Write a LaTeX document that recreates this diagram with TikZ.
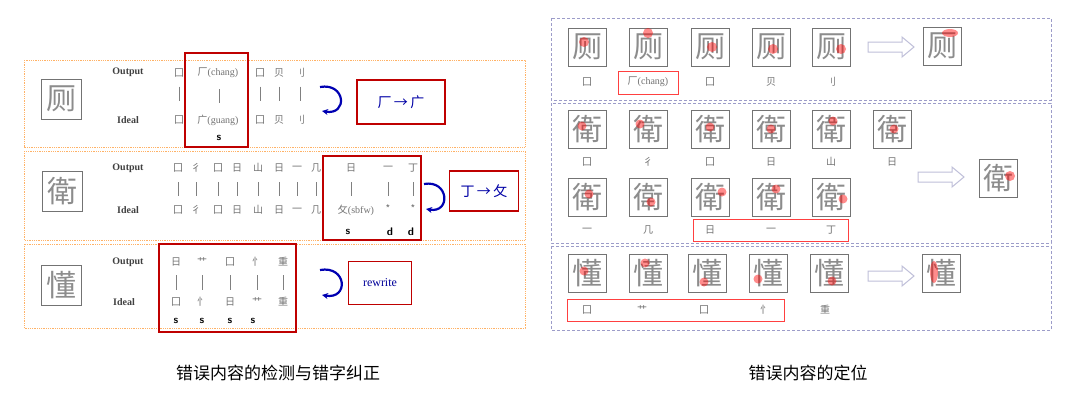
\documentclass[tikz,border=0pt]{standalone}
\usepackage{fontspec}
\setmainfont{Liberation Serif}
\newfontfamily\cjk{Noto Sans CJK SC}
\usetikzlibrary{arrows.meta}
\tikzset{
 orgbox/.style={draw=orange!60,densely dotted,line width=0.8pt},
 bluebox/.style={draw=blue!30!gray!60,densely dashed,line width=0.8pt},
 redbox/.style={draw=red!75!black,line width=1.4pt},
 redthin/.style={draw=red!75,line width=1pt},
 lbl/.style={font=\bfseries\fontsize{10}{10}\selectfont,text=black!75},
 comp/.style={font=\cjk\fontsize{10}{10}\selectfont,text=black!55,inner sep=0pt},
 bar/.style={draw=black!50,line width=0.6pt},
 sd/.style={font=\sffamily\bfseries\fontsize{11}{11}\selectfont,inner sep=0pt},
 glyph/.style={draw=black!55,line width=1pt,minimum size=38pt,inner sep=0pt,font=\cjk\fontsize{30}{30}\selectfont,text=black!45},
 bigglyph/.style={glyph,minimum size=40pt},
 barr/.style={-{Stealth[length=6pt,width=6pt]},draw=blue!70!black,line width=2.2pt},
 harr/.style={draw=blue!25!gray!40,line width=1pt},
 blob/.style={fill=red,opacity=0.45},
 corr/.style={font=\cjk\fontsize{14}{14}\selectfont,text=blue!65!black},
 title/.style={font=\cjk\fontsize{17}{17}\selectfont}
}
\newcommand\harrow[2]{\draw[harr] (#1-22,#2-5) -- (#1+12,#2-5) -- (#1+12,#2-10) -- (#1+24,#2) -- (#1+12,#2+10) -- (#1+12,#2+5) -- (#1-22,#2+5) -- cycle;}
\begin{document}
\begin{tikzpicture}[x=1pt,y=-1pt]
\useasboundingbox (0,0) rectangle (1080,407);
\fill[white] (0,0) rectangle (1080,407);
% ---------------- LEFT PANEL ----------------
\draw[orgbox] (24,60) rectangle (525,147);
\draw[orgbox] (24,151) rectangle (525,240);
\draw[orgbox] (24,244) rectangle (525,328);
\node[glyph,minimum size=40pt] (L1) at (61,99) {厕};
\node[glyph,minimum size=40pt] (L2) at (62,191) {衛};
\node[glyph,minimum size=40pt] (L3) at (61,285) {懂};
% row 1
\node[lbl] (o1) at (128,72) {Output};
\node[lbl] (i1) at (128,120) {Ideal};
\foreach \x/\c/\n in {179/囗/a,260/囗/c,279/贝/d,300/刂/e}{
 \node[comp] (o1\n) at (\x,73) {\c};
 \node[comp] (i1\n) at (\x,120) {\c};
 \draw[bar] (o1\n.south)++(0,9) -- ++(0,14);
}
\node[comp,font=\fontsize{10}{10}\selectfont] (o1b) at (218,73) {{\cjk 厂}(chang)};
\node[comp,font=\fontsize{10}{10}\selectfont] (i1b) at (218,120) {{\cjk 广}(guang)};
\draw[bar] (219,89) -- (219,103);
\node[sd] (s1) at (219,138) {s};
\draw[redbox] (185,53) rectangle (248,147);
\coordinate (a1s) at (320,87); \coordinate (a1e) at (322,111);
\draw[barr] (a1s) to[out=10,in=-10,looseness=2.8] (a1e);
\node[redbox,minimum width=88pt,minimum height=44pt,corr] (c1) at (401,102) {厂\,→\,广};
% row 2
\node[lbl] (o2) at (128,168) {Output};
\node[lbl] (i2) at (128,210) {Ideal};
\foreach \x/\c/\n in {178/囗/a,196/彳/b,218/囗/c,237/日/d,258/山/e,279/日/f,297/一/g,316/几/h}{
 \node[comp] (o2\n) at (\x,168) {\c};
 \node[comp] (i2\n) at (\x,210) {\c};
 \draw[bar] (\x,182) -- (\x,196);
}
\node[comp] (o2i) at (351,168) {日};
\node[comp] (o2j) at (388,168) {一};
\node[comp] (o2k) at (413,168) {丁};
\foreach \x in {351,388,413}{\draw[bar] (\x,182) -- (\x,196);}
\node[comp,font=\fontsize{10}{10}\selectfont] (i2i) at (356,210) {{\cjk 攵}(sbfw)};
\node[comp] (i2j) at (388,209) {*};
\node[comp] (i2k) at (413,209) {*};
\node[sd] at (348,232) {s};
\node[sd] at (390,232) {d};
\node[sd] at (411,232) {d};
\draw[redbox] (323,156) rectangle (421,240);
\coordinate (a2s) at (424,184); \coordinate (a2e) at (426,209);
\draw[barr] (a2s) to[out=10,in=-10,looseness=2.6] (a2e);
\node[redbox,minimum width=69pt,minimum height=40pt,corr] (c2) at (484,191) {丁\,→\,攵};
% row 3
\node[lbl] (o3) at (128,262) {Output};
\node[lbl] (i3) at (124,302) {Ideal};
\foreach \x/\c/\d/\n in {176/日/囗/a,202/艹/忄/b,230/囗/日/c,257/忄/艹/d,283/重/重/e}{
 \node[comp] (o3\n) at (\x,262) {\c};
 \node[comp] (i3\n) at (\x,302) {\d};
 \draw[bar] (\x,275) -- (\x,290);
}
\foreach \x in {176,202,230,253}{\node[sd] at (\x,321) {s};}
\draw[redbox] (159,244) rectangle (296,332);
\coordinate (a3s) at (320,270); \coordinate (a3e) at (322,295);
\draw[barr] (a3s) to[out=10,in=-10,looseness=2.8] (a3e);
\node[redbox,minimum width=63pt,minimum height=43pt,font=\fontsize{12}{12}\selectfont,text=blue!60!black] (c3) at (380,283) {rewrite};
\node[title] (t1) at (278,373) {错误内容的检测与错字纠正};
% ---------------- RIGHT PANEL ----------------
\draw[bluebox] (551,18) rectangle (1051,100);
\draw[bluebox] (551,103) rectangle (1051,243);
\draw[bluebox] (551,246) rectangle (1051,330);
% row 1
\foreach \x/\bx/\by/\n in {587/-3/-5/a,648/0/-14/b,710/2/0/c,771/2/2/d,831/10/2/e}{
 \node[glyph] (R1\n) at (\x,47) {厕};
 \fill[blob] (\x+\bx,47+\by) circle (5pt);
}
\harrow{890}{47}
\node[glyph] (R1r) at (942,46) {厕};
\fill[blob] (950,33) ellipse (8pt and 4pt);
\foreach \x/\c in {587/囗,710/囗,771/贝,831/刂}{\node[comp] at (\x,82) {\c};}
\node[comp,font=\fontsize{10}{10}\selectfont] at (648,82) {{\cjk 厂}(chang)};
\draw[redthin] (618,71) rectangle (678,94);
% row 2
\foreach \x/\bx/\by/\c/\n in {587/-5/-3/囗/a,648/-8/-5/彳/b,710/0/-2/囗/c,771/0/0/日/d,831/2/-8/山/e,892/2/0/日/f}{
 \node[glyph] (R2\n) at (\x,129) {衛};
 \fill[blob] (\x+\bx,129+\by) circle (4.5pt);
 \node[comp] at (\x,162) {\c};
}
\foreach \x/\bx/\by/\c/\n in {587/2/-3/一/g,648/3/5/几/h,710/12/-5/日/i,771/5/-8/一/j,831/12/2/丁/k}{
 \node[glyph] (R2\n) at (\x,197) {衛};
 \fill[blob] (\x+\bx,197+\by) circle (4.5pt);
}
\node[comp] at (587,230) {一};
\node[comp] at (648,230) {几};
\node[comp] at (710,230) {日};
\node[comp] at (771,230) {一};
\node[comp] at (831,230) {丁};
\draw[redthin] (693,219) rectangle (848,241);
\harrow{940}{177}
\node[glyph] (R2r) at (998,178) {衛};
\fill[blob] (1010,176) circle (5pt);
% row 3
\foreach \x/\bx/\by/\n in {587/-3/-2/a,648/-3/-10/b,707/-3/9/c,768/-10/6/d,829/3/8/e}{
 \node[glyph] (R3\n) at (\x,273) {懂};
 \fill[blob] (\x+\bx,273+\by) circle (4.5pt);
}
\harrow{890}{276}
\node[glyph] (R3r) at (941,273) {懂};
\fill[blob] (934,272) ellipse (4pt and 11pt);
\foreach \x/\c in {587/囗,642/艹,704/囗,765/忄,825/重}{\node[comp] at (\x,310) {\c};}
\draw[redthin] (567,299) rectangle (784,321);
\node[title] (t2) at (808,373) {错误内容的定位};
\end{tikzpicture}
\end{document}
